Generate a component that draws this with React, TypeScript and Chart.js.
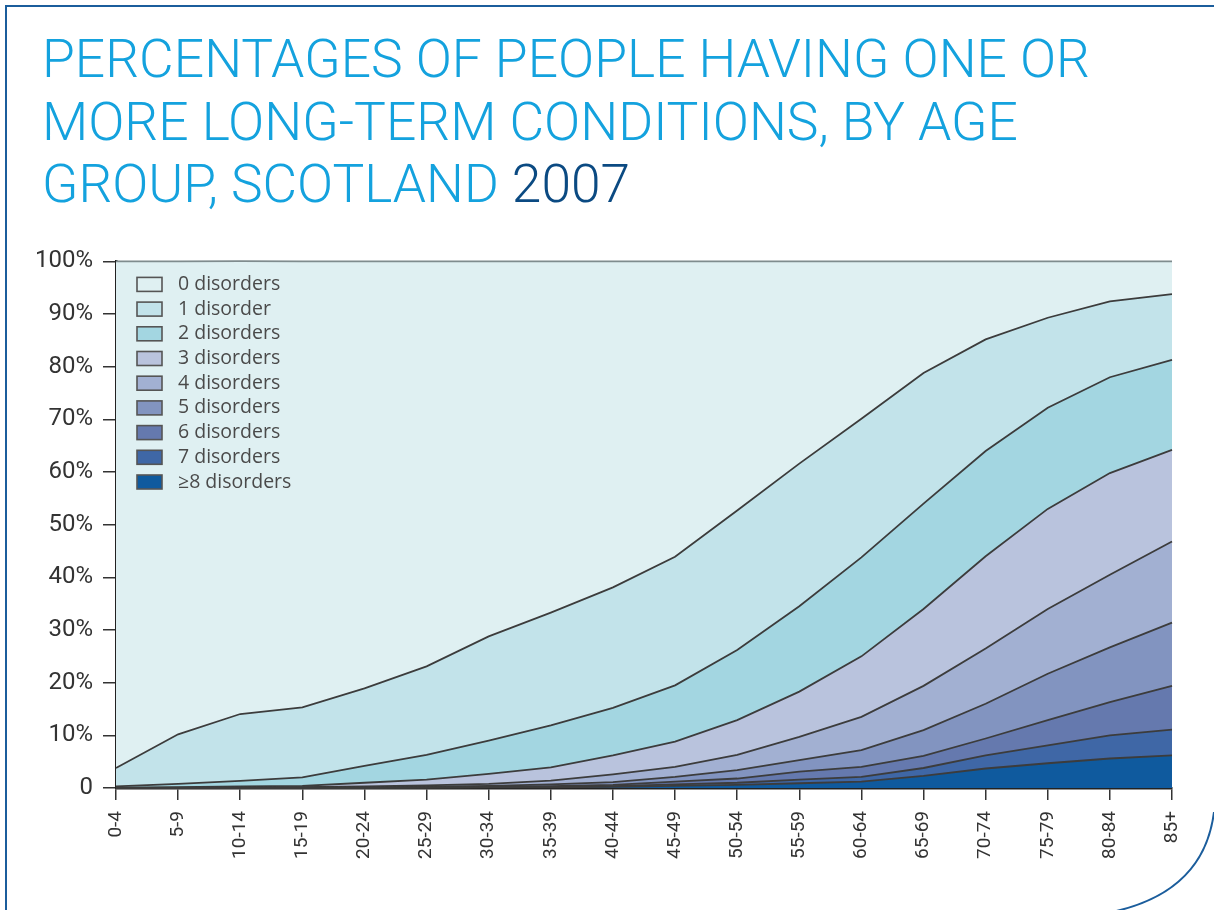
import React, { useEffect, useLayoutEffect, useRef } from "react";
import { Chart, registerables } from "chart.js";

Chart.register(...registerables);

const ageGroups = ["0-4", "5-9", "10-14", "15-19", "20-24", "25-29", "30-34", "35-39", "40-44", "45-49", "50-54", "55-59", "60-64", "65-69", "70-74", "75-79", "80-84", "85+"];

// share of people (%) with exactly N disorders, per age group
const pct8plus = [0, 0, 0, 0, 0, 0.05, 0.1, 0.1, 0.2, 0.4, 0.6, 0.9, 1.2, 2.3, 3.7, 4.7, 5.6, 6.2];
const pct7 = [0, 0, 0, 0, 0.05, 0.05, 0.05, 0.1, 0.15, 0.3, 0.4, 0.7, 0.9, 1.5, 2.5, 3.4, 4.4, 4.9];
const pct6 = [0, 0, 0, 0.05, 0.05, 0.05, 0.05, 0.15, 0.25, 0.5, 0.8, 1.5, 1.9, 2.3, 3.2, 4.8, 6.3, 8.3];
const pct5 = [0, 0, 0.05, 0.05, 0.05, 0.1, 0.2, 0.35, 0.5, 0.9, 1.6, 2.2, 3.2, 4.9, 6.6, 8.8, 10.4, 12.0];
const pct4 = [0, 0.05, 0.05, 0.05, 0.15, 0.25, 0.4, 0.7, 1.5, 1.9, 2.9, 4.4, 6.3, 8.4, 10.5, 12.3, 13.8, 15.4];
const pct3 = [0.05, 0.1, 0.2, 0.25, 0.7, 1.1, 1.9, 2.5, 3.6, 4.8, 6.6, 8.6, 11.5, 14.6, 17.5, 19.0, 19.3, 17.4];
const pct2 = [0.25, 0.65, 1.05, 1.6, 3.2, 4.7, 6.3, 8.0, 9.0, 10.7, 13.3, 16.2, 18.8, 20.0, 20.0, 19.2, 18.2, 17.1];
const pct1 = [3.5, 9.4, 12.7, 13.3, 14.7, 16.8, 19.8, 21.4, 22.9, 24.4, 26.5, 27.1, 26.3, 24.8, 21.2, 17.1, 14.4, 12.5];
const pct0 = [96.2, 89.8, 86.0, 84.7, 81.1, 76.9, 71.2, 66.7, 61.9, 56.1, 47.3, 38.4, 29.9, 21.2, 14.8, 10.7, 7.6, 6.2];

const seriesLabels = ["0 disorders", "1 disorder", "2 disorders", "3 disorders", "4 disorders", "5 disorders", "6 disorders", "7 disorders", "\u22658 disorders"];
const seriesValues = [pct0, pct1, pct2, pct3, pct4, pct5, pct6, pct7, pct8plus];
const seriesColors = ["#dff0f2", "#c2e3ea", "#a3d6e1", "#b9c3dd", "#a2b0d2", "#8294c0", "#6579ae", "#3f67a6", "#0f5a9e"];

const yTicks = [0, 10, 20, 30, 40, 50, 60, 70, 80, 90, 100];

const titleLines = [
  { parts: [{ t: "PERCENTAGES OF PEOPLE HAVING ONE OR", c: "#14a2de" }], top: 33, width: 1048 },
  { parts: [{ t: "MORE LONG-TERM CONDITIONS, BY AGE", c: "#14a2de" }], top: 96, width: 976 },
  { parts: [{ t: "GROUP, SCOTLAND ", c: "#14a2de" }, { t: "2007", c: "#0b4a82" }], top: 158, width: 588 },
];

function TitleLine({ line }: { line: any }) {
  const ref = useRef<HTMLSpanElement>(null);
  useLayoutEffect(() => {
    const el = ref.current;
    if (!el) return;
    el.style.transform = "none";
    const w = el.getBoundingClientRect().width;
    if (w > 0) el.style.transform = `scaleX(${line.width / w})`;
  }, [line]);
  return (
    <span
      ref={ref}
      style={{
        position: "absolute",
        left: 42,
        top: line.top,
        fontFamily: "Roboto, 'DejaVu Sans', sans-serif",
        fontWeight: 300,
        fontSize: 53,
        lineHeight: "53px",
        whiteSpace: "pre",
        transformOrigin: "0 0",
        display: "inline-block",
      }}
    >
      {line.parts.map((p: any, i: number) => (
        <span key={i} style={{ color: p.c }}>{p.t}</span>
      ))}
    </span>
  );
}

const legendPlugin = {
  id: "insideLegend",
  afterDatasetsDraw(chart: any) {
    const ctx = chart.ctx;
    const area = chart.chartArea;
    ctx.save();
    const n = seriesLabels.length;
    for (let i = 0; i < n; i++) {
      const cy = area.top + 23 + i * 24.7;
      const bx = area.left + 21;
      ctx.fillStyle = seriesColors[i];
      ctx.fillRect(bx, cy - 7, 25, 14);
      ctx.strokeStyle = "#555";
      ctx.lineWidth = 1.6;
      ctx.strokeRect(bx, cy - 7, 25, 14);
      ctx.fillStyle = "#4a4a4a";
      ctx.font = '19.5px "Open Sans", sans-serif';
      ctx.textBaseline = "middle";
      ctx.textAlign = "left";
      ctx.fillText(seriesLabels[i], area.left + 62, cy);
    }
    ctx.restore();
  },
};

export default function App() {
  const canvasRef = useRef<HTMLCanvasElement>(null);

  useEffect(() => {
    if (!canvasRef.current) return;
    const order = [8, 7, 6, 5, 4, 3, 2, 1, 0];
    const datasets = order.map((idx, k) => ({
      label: seriesLabels[idx],
      data: seriesValues[idx],
      backgroundColor: seriesColors[idx],
      borderColor: idx === 0 ? "#7f8c8e" : "#3c3c3c",
      borderWidth: 1.8,
      pointRadius: 0,
      tension: 0,
      fill: k === 0 ? "origin" : "-1",
      clip: 4,
    }));
    const chart = new Chart(canvasRef.current, {
      type: "line",
      data: { labels: ageGroups, datasets },
      plugins: [legendPlugin],
      options: {
        animation: false,
        responsive: false,
        maintainAspectRatio: false,
        layout: { padding: { top: 0, right: 42, left: 0, bottom: 0 } },
        plugins: { legend: { display: false }, tooltip: { enabled: false }, title: { display: false } },
        scales: {
          x: {
            type: "category",
            offset: false,
            grid: { display: true, drawOnChartArea: false, drawTicks: true, tickLength: 12, color: "#333", offset: false, lineWidth: 1.5 },
            border: { display: true, color: "#222", width: 2.5 },
            ticks: {
              maxRotation: 90,
              minRotation: 90,
              autoSkip: false,
              padding: 11,
              color: "#333",
              font: { family: "Roboto, sans-serif", size: 19 },
            },
            afterFit(scale: any) {
              scale.height = 102;
            },
          },
          y: {
            stacked: true,
            min: 0,
            max: 100,
            afterBuildTicks(scale: any) {
              scale.ticks = yTicks.map((v) => ({ value: v }));
            },
            grid: { display: true, drawOnChartArea: false, drawTicks: true, tickLength: 13, color: "#333", lineWidth: 1.5 },
            border: { display: true, color: "#222", width: 2.5 },
            ticks: {
              padding: 10,
              color: "#333",
              font: { family: "Roboto, sans-serif", size: 24 },
              callback: (v: any) => (v === 0 ? "0" : v + "%"),
            },
            afterFit(scale: any) {
              scale.width = 116;
            },
          },
        },
      },
    } as any);
    return () => chart.destroy();
  }, []);

  return (
    <div style={{ position: "fixed", left: 0, top: 0, width: 1214, height: 910, background: "#fff", overflow: "hidden" }}>
      <svg width={1214} height={910} style={{ position: "absolute", left: 0, top: 0 }}>
        <path d="M 6 910 L 6 6 L 1214 6" fill="none" stroke="#1b5d9c" strokeWidth={2} />
        <path d="M 1214 812 Q 1204 892 1112 912" fill="none" stroke="#1b5d9c" strokeWidth={2} />
      </svg>
      {titleLines.map((l, i) => (
        <TitleLine key={i} line={l} />
      ))}
      <canvas ref={canvasRef} width={1214} height={653} style={{ position: "absolute", left: 0, top: 237, width: 1214, height: 653 }} />
    </div>
  );
}
